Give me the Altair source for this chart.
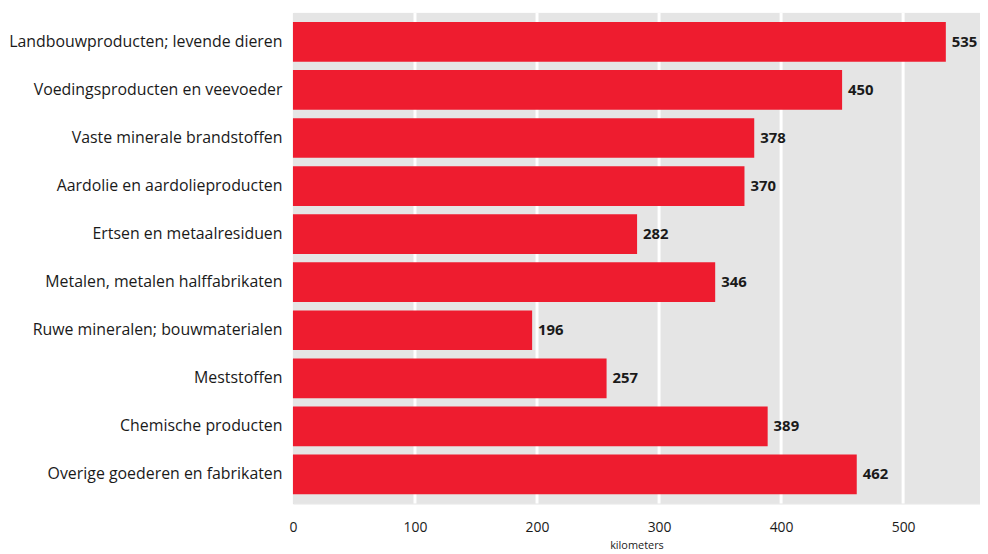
import altair as alt
import pandas as pd

categories = [
    "Landbouwproducten; levende dieren",
    "Voedingsproducten en veevoeder",
    "Vaste minerale brandstoffen",
    "Aardolie en aardolieproducten",
    "Ertsen en metaalresiduen",
    "Metalen, metalen halffabrikaten",
    "Ruwe mineralen; bouwmaterialen",
    "Meststoffen",
    "Chemische producten",
    "Overige goederen en fabrikaten",
]
values = [535, 450, 378, 370, 282, 346, 196, 257, 389, 462]
x_ticks = [0, 100, 200, 300, 400, 500]

df = pd.DataFrame({"cat": categories, "val": values})
grid_df = pd.DataFrame({"t": x_ticks[1:]})
bg_df = pd.DataFrame({"a": [0]})

FONT = "Open Sans"
W, H = 692, 494
XMAX = 563

xscale = alt.Scale(domain=[0, XMAX], nice=False, zero=True)

x = alt.X(
    "val:Q",
    scale=xscale,
    axis=alt.Axis(
        values=x_ticks,
        title="kilometers",
        titleFont=FONT,
        titleFontSize=11,
        titleFontWeight="normal",
        titleColor="#1a1a1a",
        titlePadding=5,
        labelFont=FONT,
        labelFontSize=14,
        labelColor="#1a1a1a",
        labelPadding=17,
        domain=False,
        ticks=False,
        grid=False,
        labelFlush=False,
    ),
)
y = alt.Y(
    "cat:N",
    sort=categories,
    scale=alt.Scale(paddingInner=0.174, paddingOuter=0.19),
    axis=alt.Axis(
        title=None,
        labelFont=FONT,
        labelFontSize=16,
        labelColor="#1a1a1a",
        labelPadding=11,
        labelLimit=400,
        domain=False,
        ticks=False,
        grid=False,
    ),
)

bg = alt.Chart(bg_df).mark_rect(color="#E5E5E5").encode(
    x=alt.value(0), x2=alt.value(W), y=alt.value(0), y2=alt.value(H)
)
grid = alt.Chart(grid_df).mark_rule(color="white", strokeWidth=3).encode(
    x=alt.X("t:Q", scale=xscale)
)
bars = alt.Chart(df).mark_bar(color="#EE1C2F").encode(x=x, y=y)
labels = alt.Chart(df).mark_text(
    align="left", baseline="middle", dx=6, font=FONT, fontSize=15,
    fontWeight="bold", color="#1a1a1a"
).encode(x=alt.X("val:Q"), y=alt.Y("cat:N", sort=categories), text="val:Q")

chart = (
    alt.layer(bg, grid, bars, labels)
    .properties(width=W, height=H, padding={"left": 0, "top": 1, "right": 0, "bottom": 0})
    .configure_view(strokeWidth=0)
    .configure(background="white")
)

chart.save("out.html", embed_options={"renderer": "svg", "actions": False})
